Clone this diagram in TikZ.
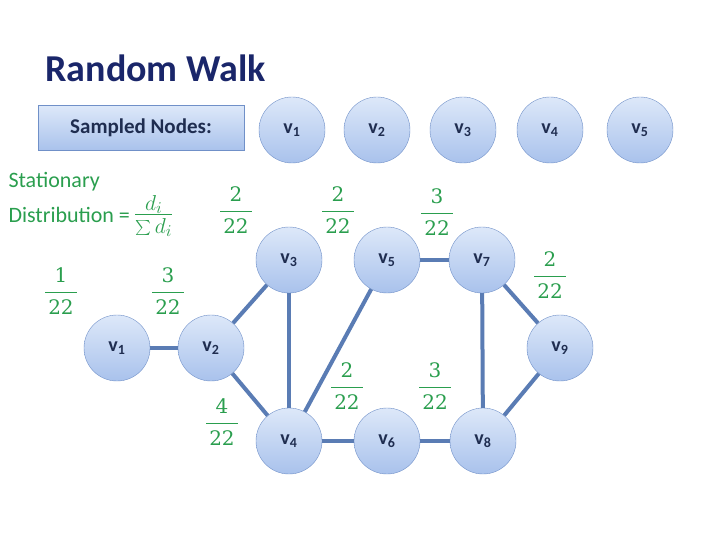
\documentclass[tikz,border=0pt]{standalone}
\usepackage{fontspec}
\usepackage{graphicx}
\setmainfont{Carlito}
\newfontfamily\frfont{DejaVu Serif}
\newcommand{\bigfr}[2]{{\frfont\fontsize{20}{24}\selectfont\setlength{\tabcolsep}{3pt}\renewcommand{\arraystretch}{1.05}\begin{tabular}{c}#1\\[2pt]\hline\rule{0pt}{22pt}#2\end{tabular}}}
\begin{document}
\begin{tikzpicture}[x=1pt,y=-1pt,
  vx/.style={circle,minimum size=66pt,inner sep=0pt,draw=nodeB,top color=nodeT,bottom color=nodeBo,font=\fontsize{20}{22}\selectfont\bfseries,text=navy},
  ed/.style={draw=edgeC,line width=4pt},
  fr/.style={text=grn,inner sep=0pt},
  gt/.style={text=grn,font=\fontsize{22}{26}\selectfont,anchor=west}]
\definecolor{nodeB}{HTML}{7090C8}
\definecolor{nodeT}{HTML}{DDE8F9}
\definecolor{nodeBo}{HTML}{A9C2EC}
\definecolor{navy}{HTML}{1F2D50}
\definecolor{edgeC}{HTML}{5A7CB4}
\definecolor{grn}{HTML}{2A9E4E}
\useasboundingbox (0,0) rectangle (720,540);
\node[anchor=west,font=\fontsize{38}{40}\selectfont\bfseries,text=navy!85!blue] (title) at (42,68) {Random Walk};
\node[draw=nodeB,top color=nodeT,bottom color=nodeBo,minimum width=206pt,minimum height=45pt,font=\fontsize{21}{23}\selectfont\bfseries,text=navy] (sn) at (141,128) {Sampled Nodes:};
\foreach \i/\x in {1/292,2/377,3/463,4/550,5/640}
  \node[vx] (s\i) at (\x,130) {v\textsubscript{\i}};
\node[gt] (st) at (5,182) {Stationary};
\node[gt] (di) at (5,216) {Distribution =\,\scalebox{1.5}{$\frac{d_i}{\sum d_i}$}};
\node[vx] (v1) at (117,348) {v\textsubscript{1}};
\node[vx] (v2) at (211,348) {v\textsubscript{2}};
\node[vx] (v3) at (289,260) {v\textsubscript{3}};
\node[vx] (v4) at (289,441) {v\textsubscript{4}};
\node[vx] (v5) at (387,260) {v\textsubscript{5}};
\node[vx] (v6) at (387,441) {v\textsubscript{6}};
\node[vx] (v7) at (482,260) {v\textsubscript{7}};
\node[vx] (v8) at (483,441) {v\textsubscript{8}};
\node[vx] (v9) at (560,348) {v\textsubscript{9}};
\foreach \a/\b in {v1/v2,v2/v3,v2/v4,v3/v4,v4/v5,v4/v6,v6/v8,v5/v7,v7/v8,v7/v9,v8/v9}
  \draw[ed] (\a) -- (\b);
\node[fr] (f1) at (236,212) {\bigfr{2}{22}};
\node[fr] (f2) at (338,212) {\bigfr{2}{22}};
\node[fr] (f3) at (437,214) {\bigfr{3}{22}};
\node[fr] (f4) at (61,293) {\bigfr{1}{22}};
\node[fr] (f5) at (168,293) {\bigfr{3}{22}};
\node[fr] (f6) at (550,277) {\bigfr{2}{22}};
\node[fr] (f7) at (347,388) {\bigfr{2}{22}};
\node[fr] (f8) at (435,388) {\bigfr{3}{22}};
\node[fr] (f9) at (222,424) {\bigfr{4}{22}};
\end{tikzpicture}
\end{document}
